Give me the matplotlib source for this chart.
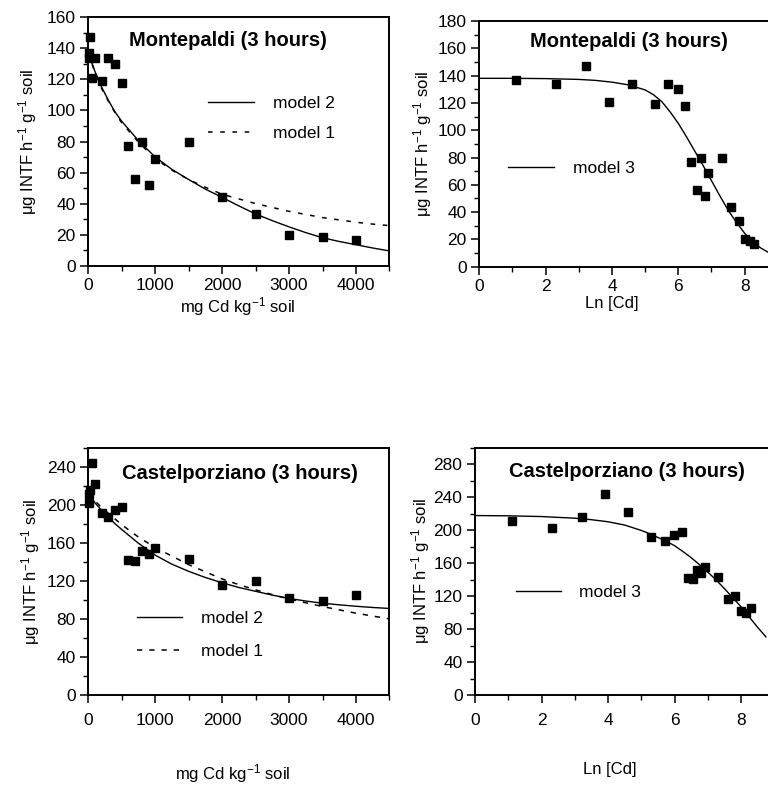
import numpy as np
import matplotlib
matplotlib.use('Agg')
import matplotlib.pyplot as plt
from matplotlib.ticker import MultipleLocator

plt.rcParams['font.family'] = ['Liberation Sans', 'DejaVu Sans']

# ---------------- data ----------------
cd_dose = [3, 10, 25, 50, 100, 200, 300, 400, 500, 600, 700, 800, 900, 1000,
           1500, 2000, 2500, 3000, 3500, 4000]
montepaldi_activity = [137, 134, 147, 121, 134, 119, 134, 130, 118, 77, 56, 80,
                       52, 69, 80, 44, 33.5, 20, 18.5, 16.5]
castel_activity = [211, 202, 216, 244, 222, 191, 187, 194, 198, 142, 141, 151,
                   148, 155, 143, 116, 120, 102, 99, 105]
ln_cd = np.log(cd_dose)

# fitted curves
model_x = [0, 50, 100, 200, 300, 400, 500, 750, 1000, 1250, 1500, 1750, 2000,
           2250, 2500, 2750, 3000, 3250, 3500, 3750, 4000, 4250, 4500]
mp_model1 = [137, 130.5, 124.5, 114, 106, 98.5, 92, 79.5, 69, 61.5, 55.5, 50.5,
             46, 43, 40, 37.5, 35, 33, 31, 29.5, 28, 26.8, 25.8]
mp_model2 = [137, 131, 125, 115, 106.5, 99, 93, 80.5, 70, 62, 55.5, 49.3, 44,
             38.5, 33.3, 29, 25, 21.3, 18, 15.6, 13.5, 11.4, 9.5]
cp_model1 = [212, 208, 204, 197, 191, 185, 179, 166, 155, 146, 137, 129.5, 122,
             116, 110.5, 105.5, 101, 97, 93, 89.5, 86, 83, 80]
cp_model2 = [213, 207, 202, 194, 187, 180, 174, 159.5, 147, 137.5, 130, 123.5,
             118, 113, 109, 105, 101.5, 98.8, 96.5, 94.8, 93.3, 92, 91]

model3_x = [0, 1, 2, 3, 3.5, 4, 4.5, 5, 5.25, 5.5, 5.75, 6, 6.25, 6.5, 6.75, 7,
            7.25, 7.5, 7.75, 8, 8.25, 8.5, 8.75]
mp_model3 = [138, 138, 137.8, 137.2, 136.5, 135.2, 133.2, 129.5, 126, 121,
             113.5, 105, 95, 84.5, 74, 63, 52, 41.5, 32.5, 24.5, 18, 13.5, 10]
cp_model3 = [217.5, 217.2, 216.3, 214.3, 212.5, 210, 206, 199.5, 195.5, 191,
             186.5, 181, 174, 166.5, 158, 149, 139.5, 129, 118, 107, 94.5, 82,
             70.5]

ylabel = r'$\mu$g INTF h$^{-1}$ g$^{-1}$ soil'
xlabel_dose = r'mg Cd kg$^{-1}$ soil'
xlabel_ln = 'Ln [Cd]'

# ---------------- figure ----------------
W, H = 768, 790
plt.rcParams['mathtext.default'] = 'regular'
fig = plt.figure(figsize=(W / 100, H / 100), dpi=100)


def make_axes(left, right, top, bottom):
    return fig.add_axes([left / W, 1 - bottom / H, (right - left) / W,
                         (bottom - top) / H])


def style(ax, xmaj, xmin, ymaj, ymin, xpad, right_spine=True):
    for s in ['left', 'bottom', 'top', 'right']:
        ax.spines[s].set_linewidth(1.4)
    if not right_spine:
        ax.spines['right'].set_visible(False)
    ax.xaxis.set_major_locator(MultipleLocator(xmaj))
    ax.xaxis.set_minor_locator(MultipleLocator(xmin))
    ax.yaxis.set_major_locator(MultipleLocator(ymaj))
    ax.yaxis.set_minor_locator(MultipleLocator(ymin))
    ax.tick_params(which='major', direction='out', length=6, width=1.1,
                   labelsize=12.5, top=False, right=False)
    ax.tick_params(which='minor', direction='out', length=3.5, width=1.0,
                   top=False, right=False)
    ax.tick_params(axis='x', which='major', pad=xpad)
    ax.tick_params(axis='y', which='major', pad=3)


sq = dict(marker='s', ms=6, color='black', linestyle='none', clip_on=False,
          zorder=4)
dash = (0, (3, 5))

# ---- top-left ----
ax1 = make_axes(88.3, 389.5, 17.3, 265.7)
ax1.plot(model_x, mp_model2, color='black', lw=1.0, label='model 2')
ax1.plot(model_x, mp_model1, color='black', lw=1.1, linestyle=dash,
         label='model 1')
ax1.plot(cd_dose, montepaldi_activity, **sq)
ax1.set_xlim(0, 4500)
ax1.set_ylim(0, 160)
style(ax1, 1000, 500, 20, 10, 2.5)
ax1.text(0.465, 0.906, 'Montepaldi (3 hours)', transform=ax1.transAxes,
         ha='center', va='center', fontsize=14.5, fontweight='bold')
ax1.legend(loc='upper left', bbox_to_anchor=(0.397, 0.685), frameon=False,
           fontsize=12.5, handlelength=2.65, handletextpad=1.1,
           labelspacing=0.85, borderpad=0, borderaxespad=0)
ax1.set_ylabel(ylabel, fontsize=12)
ax1.yaxis.set_label_coords(-0.163, 0.5)
ax1.set_xlabel(xlabel_dose, fontsize=12)
ax1.xaxis.set_label_coords(0.495, -0.118)

# ---- top-right ----
ax2 = make_axes(479.3, 768, 21, 266.7)
ax2.plot(model3_x, mp_model3, color='black', lw=1.0, label='model 3')
ax2.plot(ln_cd, montepaldi_activity, **sq)
ax2.set_xlim(0, (768 - 479.3) / 33.17)
ax2.set_ylim(0, 180)
style(ax2, 2, 1, 20, 10, 2.5, right_spine=False)
ax2.text(0.518, 0.918, 'Montepaldi (3 hours)', transform=ax2.transAxes,
         ha='center', va='center', fontsize=14.5, fontweight='bold')
ax2.legend(loc='upper left', bbox_to_anchor=(0.0994, 0.43), frameon=False,
           fontsize=12.5, handlelength=2.65, handletextpad=1.1,
           borderpad=0, borderaxespad=0)
ax2.set_ylabel(ylabel, fontsize=12)
ax2.yaxis.set_label_coords(-0.157, 0.5)
ax2.set_xlabel(xlabel_ln, fontsize=12)
ax2.xaxis.set_label_coords((612 - 479.3) / 288.7, -0.12)

# ---- bottom-left ----
ax3 = make_axes(88.3, 389.5, 447.7, 695)
ax3.plot(model_x, cp_model2, color='black', lw=1.0, label='model 2')
ax3.plot(model_x, cp_model1, color='black', lw=1.1, linestyle=(0, (3.5, 4.5)),
         label='model 1')
ax3.plot(cd_dose, castel_activity, **sq)
ax3.set_xlim(0, 4500)
ax3.set_ylim(0, 260)
style(ax3, 1000, 500, 40, 20, 7)
ax3.text(0.504, 0.894, 'Castelporziano (3 hours)', transform=ax3.transAxes,
         ha='center', va='center', fontsize=14.5, fontweight='bold')
ax3.legend(loc='upper left', bbox_to_anchor=(0.162, 0.34), frameon=False,
           fontsize=12.5, handlelength=2.6, handletextpad=1.08,
           labelspacing=1.0, borderpad=0, borderaxespad=0)
ax3.set_ylabel(ylabel, fontsize=12)
ax3.yaxis.set_label_coords(-0.154, 0.5)
ax3.set_xlabel(xlabel_dose, fontsize=12)
ax3.xaxis.set_label_coords((233 - 88.3) / 301.2, -0.27)

# ---- bottom-right ----
ax4 = make_axes(475, 768, 447.5, 695)
ax4.plot(model3_x, cp_model3, color='black', lw=1.0, label='model 3')
ax4.plot(ln_cd, castel_activity, **sq)
ax4.set_xlim(0, (768 - 475) / 33.25)
ax4.set_ylim(0, 300)
style(ax4, 2, 1, 40, 20, 7, right_spine=False)
ax4.text(0.519, 0.905, 'Castelporziano (3 hours)', transform=ax4.transAxes,
         ha='center', va='center', fontsize=14.5, fontweight='bold')
ax4.legend(loc='upper left', bbox_to_anchor=(0.14, 0.445), frameon=False,
           fontsize=12.5, handlelength=2.6, handletextpad=1.0,
           borderpad=0, borderaxespad=0)
ax4.set_ylabel(ylabel, fontsize=12)
ax4.yaxis.set_label_coords(-0.147, 0.5)
ax4.set_xlabel(xlabel_ln, fontsize=12)
ax4.xaxis.set_label_coords((610 - 475) / 293, -0.27)

fig.savefig('out.png', dpi=100)
